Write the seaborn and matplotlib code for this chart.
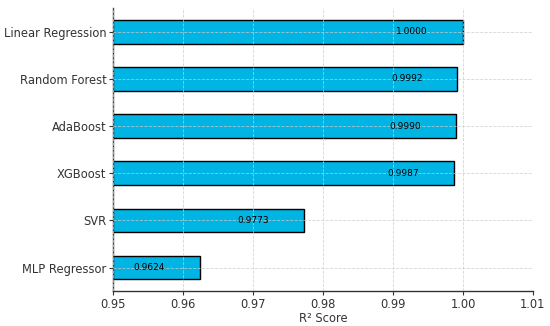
import matplotlib
matplotlib.use("Agg")
import matplotlib.pyplot as plt
import seaborn as sns
import pandas as pd

models = ["Linear Regression", "Random Forest", "AdaBoost", "XGBoost", "SVR", "MLP Regressor"]
r2_scores = [1.0000, 0.9992, 0.9990, 0.9987, 0.9773, 0.9624]

df = pd.DataFrame({"Model": models, "R2": r2_scores})

sns.set_style("white")
fig, ax = plt.subplots(figsize=(5.5, 3.26), dpi=100)

sns.barplot(data=df, x="R2", y="Model", color="#00b4e4", edgecolor="black",
            linewidth=1, width=0.5, saturation=1, ax=ax)

# value labels inside the bars
for i, v in enumerate(r2_scores):
    ax.text(v - 0.005, i, f"{v:.4f}", ha="right", va="center", fontsize=6.5, color="black")

ax.set_xlim(0.95, 1.01)
ax.set_xticks([0.95, 0.96, 0.97, 0.98, 0.99, 1.00, 1.01])
ax.set_xticklabels(["0.95", "0.96", "0.97", "0.98", "0.99", "1.00", "1.01"])
ax.set_xlabel("R² Score", fontsize=8.3, color="#333333", labelpad=1)
ax.set_ylabel("")
ax.tick_params(axis="both", labelsize=8.3, colors="#333333", length=3, pad=2,
               direction="out", left=True, bottom=True)
ax.grid(True, linestyle="--", color="#cccccc", linewidth=0.6, alpha=0.8)
ax.set_axisbelow(False)
sns.despine(ax=ax)
for s in ["left", "bottom"]:
    ax.spines[s].set_color("#333333")
    ax.spines[s].set_linewidth(1)

fig.subplots_adjust(left=0.206, right=0.969, top=0.975, bottom=0.107)
fig.savefig("out.png", dpi=100)
